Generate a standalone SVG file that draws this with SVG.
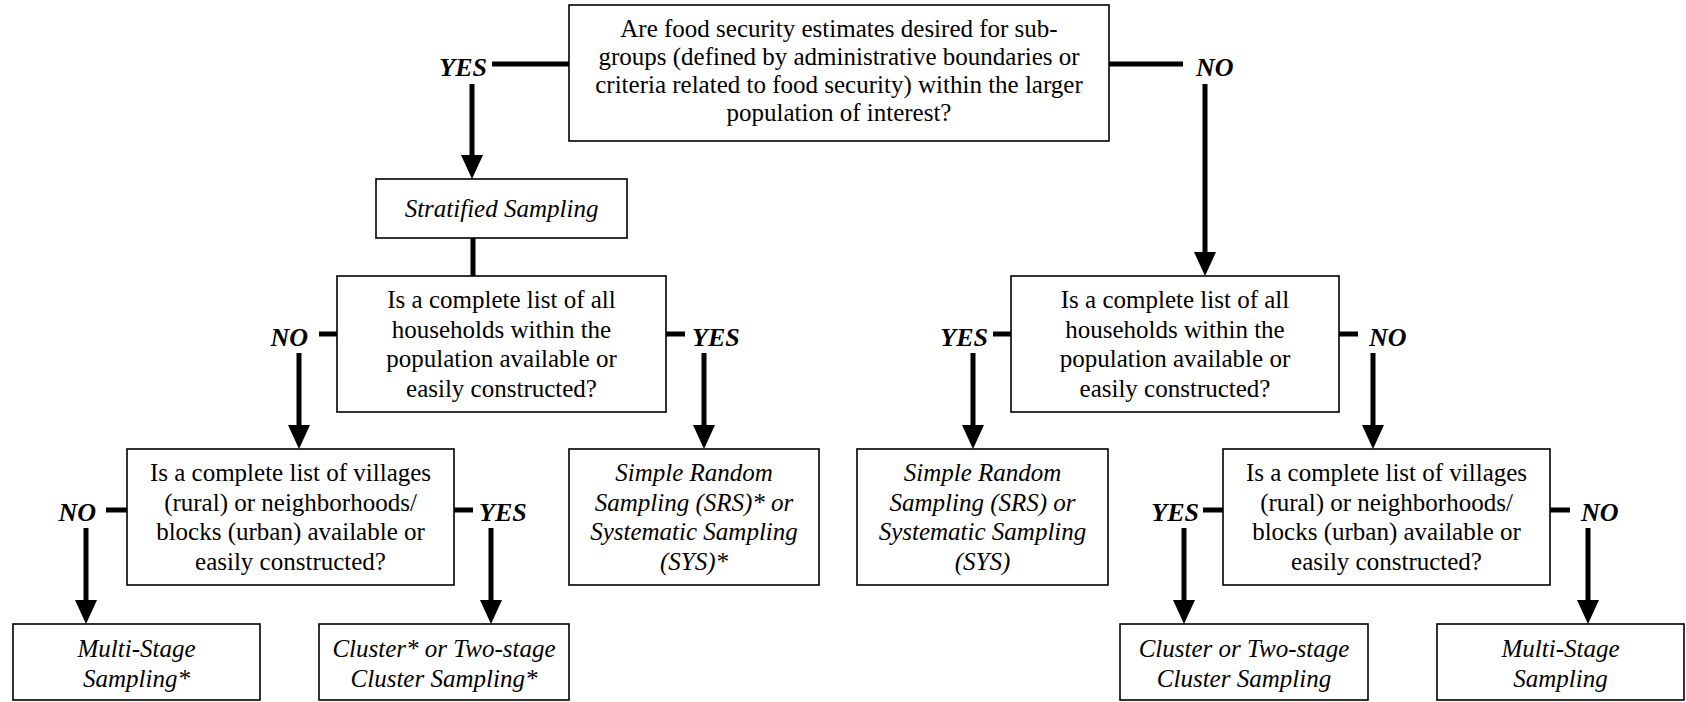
<svg xmlns="http://www.w3.org/2000/svg" width="1686" height="702" viewBox="0 0 1686 702">
<style>
.box{fill:#fff;stroke:#000;stroke-width:1.6}
.t{font-family:"Liberation Serif","Times New Roman",serif;font-size:25px;text-anchor:middle;fill:#000}
.i{font-style:italic}
.lab{font-family:"Liberation Serif","Times New Roman",serif;font-size:26px;font-weight:bold;font-style:italic;fill:#000}
.ln{stroke:#000;stroke-width:5;fill:none}
</style>
<defs>
<marker id="ah" markerUnits="userSpaceOnUse" markerWidth="26" markerHeight="24" refX="12" refY="11" orient="auto">
<path d="M0,0 L24,11 L0,22 z" fill="#000"/>
</marker>
</defs>
<rect width="1686" height="702" fill="#fff"/>
<g id="connectors">
<line class="ln" x1="492" y1="64" x2="569" y2="64"/>
<line class="ln" x1="472" y1="84" x2="472" y2="167" marker-end="url(#ah)"/>
<line class="ln" x1="1109" y1="64" x2="1183" y2="64"/>
<line class="ln" x1="1205" y1="84" x2="1205" y2="264" marker-end="url(#ah)"/>
<line class="ln" x1="473" y1="238" x2="473" y2="276"/>
<line class="ln" x1="319" y1="334" x2="337" y2="334"/>
<line class="ln" x1="299" y1="353" x2="299" y2="437" marker-end="url(#ah)"/>
<line class="ln" x1="666" y1="334" x2="685" y2="334"/>
<line class="ln" x1="704" y1="353" x2="704" y2="437" marker-end="url(#ah)"/>
<line class="ln" x1="993" y1="334" x2="1011" y2="334"/>
<line class="ln" x1="973" y1="353" x2="973" y2="437" marker-end="url(#ah)"/>
<line class="ln" x1="1339" y1="334" x2="1358" y2="334"/>
<line class="ln" x1="1373" y1="353" x2="1373" y2="437" marker-end="url(#ah)"/>
<line class="ln" x1="106" y1="510" x2="127" y2="510"/>
<line class="ln" x1="86" y1="528" x2="86" y2="612" marker-end="url(#ah)"/>
<line class="ln" x1="454" y1="510" x2="473" y2="510"/>
<line class="ln" x1="491" y1="528" x2="491" y2="612" marker-end="url(#ah)"/>
<line class="ln" x1="1203" y1="510" x2="1223" y2="510"/>
<line class="ln" x1="1184" y1="528" x2="1184" y2="612" marker-end="url(#ah)"/>
<line class="ln" x1="1550" y1="510" x2="1570" y2="510"/>
<line class="ln" x1="1588" y1="528" x2="1588" y2="612" marker-end="url(#ah)"/>
<text class="lab" x="487" y="76" text-anchor="end">YES</text>
<text class="lab" x="1196" y="76">NO</text>
<text class="lab" x="308" y="346" text-anchor="end">NO</text>
<text class="lab" x="692" y="346">YES</text>
<text class="lab" x="988" y="346" text-anchor="end">YES</text>
<text class="lab" x="1369" y="346">NO</text>
<text class="lab" x="96" y="521" text-anchor="end">NO</text>
<text class="lab" x="479" y="521">YES</text>
<text class="lab" x="1199" y="521" text-anchor="end">YES</text>
<text class="lab" x="1581" y="521">NO</text>
</g>
<g id="q-top">
<rect class="box" x="569" y="5" width="540" height="136"/>
<text class="t" x="839" y="37">Are food security estimates desired for sub-</text>
<text class="t" x="839" y="65">groups (defined by administrative boundaries or</text>
<text class="t" x="839" y="93">criteria related to food security) within the larger</text>
<text class="t" x="839" y="121">population of interest?</text>
</g>
<g id="stratified">
<rect class="box" x="376" y="179" width="251" height="59"/>
<text class="t i" x="501.5" y="217">Stratified Sampling</text>
</g>
<g id="q-list-left">
<rect class="box" x="337" y="276" width="329" height="136"/>
<text class="t" x="501.5" y="308">Is a complete list of all</text>
<text class="t" x="501.5" y="338">households within the</text>
<text class="t" x="501.5" y="367">population available or</text>
<text class="t" x="501.5" y="397">easily constructed?</text>
</g>
<g id="q-list-right">
<rect class="box" x="1011" y="276" width="328" height="136"/>
<text class="t" x="1175" y="308">Is a complete list of all</text>
<text class="t" x="1175" y="338">households within the</text>
<text class="t" x="1175" y="367">population available or</text>
<text class="t" x="1175" y="397">easily constructed?</text>
</g>
<g id="q-villages-left">
<rect class="box" x="127" y="449" width="327" height="136"/>
<text class="t" x="290.5" y="481">Is a complete list of villages</text>
<text class="t" x="290.5" y="511">(rural) or neighborhoods/</text>
<text class="t" x="290.5" y="540">blocks (urban) available or</text>
<text class="t" x="290.5" y="570">easily constructed?</text>
</g>
<g id="srs-star">
<rect class="box" x="569" y="449" width="250" height="136"/>
<text class="t i" x="694" y="481">Simple Random</text>
<text class="t i" x="694" y="511">Sampling (SRS)* or</text>
<text class="t i" x="694" y="540">Systematic Sampling</text>
<text class="t i" x="694" y="570">(SYS)*</text>
</g>
<g id="srs">
<rect class="box" x="857" y="449" width="251" height="136"/>
<text class="t i" x="982.5" y="481">Simple Random</text>
<text class="t i" x="982.5" y="511">Sampling (SRS) or</text>
<text class="t i" x="982.5" y="540">Systematic Sampling</text>
<text class="t i" x="982.5" y="570">(SYS)</text>
</g>
<g id="q-villages-right">
<rect class="box" x="1223" y="449" width="327" height="136"/>
<text class="t" x="1386.5" y="481">Is a complete list of villages</text>
<text class="t" x="1386.5" y="511">(rural) or neighborhoods/</text>
<text class="t" x="1386.5" y="540">blocks (urban) available or</text>
<text class="t" x="1386.5" y="570">easily constructed?</text>
</g>
<g id="multistage-star">
<rect class="box" x="13" y="624" width="247" height="76"/>
<text class="t i" x="136.5" y="657">Multi-Stage</text>
<text class="t i" x="136.5" y="687">Sampling*</text>
</g>
<g id="cluster-star">
<rect class="box" x="319" y="624" width="250" height="76"/>
<text class="t i" x="444" y="657">Cluster* or Two-stage</text>
<text class="t i" x="444" y="687">Cluster Sampling*</text>
</g>
<g id="cluster">
<rect class="box" x="1120" y="624" width="248" height="76"/>
<text class="t i" x="1244" y="657">Cluster or Two-stage</text>
<text class="t i" x="1244" y="687">Cluster Sampling</text>
</g>
<g id="multistage">
<rect class="box" x="1437" y="624" width="247" height="76"/>
<text class="t i" x="1560.5" y="657">Multi-Stage</text>
<text class="t i" x="1560.5" y="687">Sampling</text>
</g>
</svg>
